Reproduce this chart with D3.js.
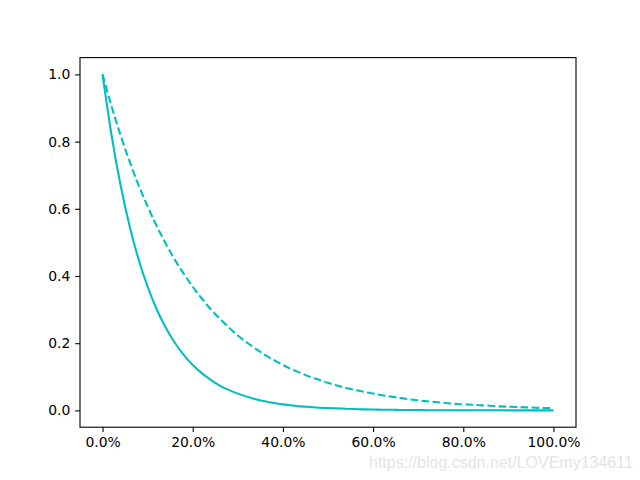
<!DOCTYPE html>
<html><head><meta charset="utf-8">
<script src="https://cdn.jsdelivr.net/npm/d3@7"></script>
<style>body{margin:0;background:#fff}svg{display:block}</style>
</head><body>
<script>
const xValues = [0,0.02,0.04,0.06,0.08,0.10,0.12,0.14,0.16,0.18,0.20,0.22,0.24,0.26,0.28,0.30,0.32,0.34,0.36,0.38,0.40,0.42,0.44,0.46,0.48,0.50,0.52,0.54,0.56,0.58,0.60,0.62,0.64,0.66,0.68,0.70,0.72,0.74,0.76,0.78,0.80,0.82,0.84,0.86,0.88,0.90,0.92,0.94,0.96,0.98,1.00];
const solidValues = [1.000,0.819,0.670,0.549,0.449,0.368,0.301,0.247,0.202,0.165,0.135,0.111,0.091,0.074,0.061,0.050,0.041,0.033,0.027,0.022,0.018,0.015,0.012,0.010,0.008,0.007,0.006,0.005,0.004,0.003,0.0025,0.002,0.0017,0.0014,0.0011,0.0009,0.0007,0.0006,0.0005,0.0004,0.0003,0.0003,0.0002,0.0002,0.0002,0.0001,0.0001,0.0001,0.0001,0.0001,0.0000];
const dashedValues = [1.000,0.905,0.819,0.741,0.670,0.607,0.549,0.497,0.449,0.407,0.368,0.333,0.301,0.273,0.247,0.223,0.202,0.183,0.165,0.150,0.135,0.122,0.111,0.100,0.091,0.082,0.074,0.067,0.061,0.055,0.050,0.045,0.041,0.037,0.033,0.030,0.027,0.025,0.022,0.020,0.018,0.017,0.015,0.014,0.012,0.011,0.010,0.009,0.008,0.007,0.007];
const xTicks = [0,0.2,0.4,0.6,0.8,1.0];
const yTicks = [0,0.2,0.4,0.6,0.8,1.0];
const watermark = "https://blog.csdn.net/LOVEmy134611";

const W=640,H=480, L=80, R=576, T=57.6, B=427.2;
const svg=d3.select("body").append("svg").attr("width",W).attr("height",H);
const x=d3.scaleLinear().domain([-0.05,1.05]).range([L,R]);
const y=d3.scaleLinear().domain([-0.05,1.05]).range([B,T]);
const font="'DejaVu Sans', sans-serif";

const line=d3.line().x((d,i)=>x(xValues[i])).y(d=>y(d)).curve(d3.curveMonotoneX);
svg.append("path").datum(solidValues).attr("d",line).attr("fill","none")
  .attr("stroke","#00bfbf").attr("stroke-width",2.08);
svg.append("path").datum(dashedValues).attr("d",line).attr("fill","none")
  .attr("stroke","#00bfbf").attr("stroke-width",2.08).attr("stroke-dasharray","7.7,3.33");

const xa=svg.append("g").attr("transform",`translate(0,${B})`)
  .call(d3.axisBottom(x).tickValues(xTicks).tickFormat(d=>(d*100).toFixed(1)+"%").tickSize(4.86).tickPadding(4.86));
const ya=svg.append("g").attr("transform",`translate(${L},0)`)
  .call(d3.axisLeft(y).tickValues(yTicks).tickFormat(d3.format(".1f")).tickSize(4.86).tickPadding(4.86));
[xa,ya].forEach(a=>{a.select(".domain").remove();
  a.selectAll("text").attr("font-family",font).attr("font-size",13.9).attr("fill","#000");
  a.selectAll("line").attr("stroke","#000").attr("stroke-width",1.1);});

svg.append("rect").attr("x",L).attr("y",T).attr("width",R-L).attr("height",B-T)
  .attr("fill","none").attr("stroke","#000").attr("stroke-width",1.1);

svg.append("text").attr("x",369).attr("y",468).attr("font-family","'Liberation Sans', Arial, sans-serif")
  .attr("font-size",16).attr("fill","#e4e4e4").text(watermark);
</script>
</body></html>
